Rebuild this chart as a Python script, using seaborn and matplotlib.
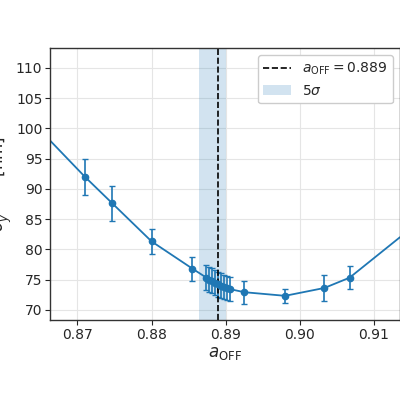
import matplotlib
matplotlib.use("Agg")
import matplotlib.pyplot as plt
import seaborn as sns
import numpy as np

sns.set_style("ticks")
plt.rcParams['font.family'] = ['DejaVu Sans']

a_off = [0.871, 0.8747, 0.880, 0.8855, 0.8874, 0.8878, 0.8882, 0.8886, 0.8890, 0.8894, 0.8898, 0.8902, 0.8906, 0.8925, 0.898, 0.9033, 0.9067]
sigma = [92.0, 87.6, 81.3, 76.8, 75.3, 75.0, 74.8, 74.5, 74.2, 74.0, 73.8, 73.6, 73.4, 72.9, 72.3, 73.6, 75.3]
err = [3.0, 2.9, 2.0, 2.0, 2.1, 2.1, 2.1, 2.1, 2.1, 2.0, 2.0, 2.0, 2.0, 1.9, 1.2, 2.1, 1.9]
curve_x = [0.8663, 0.871, 0.8747, 0.880, 0.8855, 0.8874, 0.8906, 0.8925, 0.898, 0.9033, 0.9067, 0.9135]
curve_y = [98.0, 92.0, 87.6, 81.3, 76.8, 75.3, 73.4, 72.9, 72.3, 73.6, 75.3, 82.0]
a_best = 0.889
band = (0.8864, 0.8900)

fig = plt.figure(figsize=(4, 4), dpi=100)
ax = fig.add_axes([0.125, 0.2, 0.875, 0.68])
c = "#1f77b4"
sns.lineplot(x=curve_x, y=curve_y, ax=ax, color=c, lw=1.3, sort=True)
ax.errorbar(a_off, sigma, yerr=err, fmt='o', color=c, ms=4.5, capsize=2.5, elinewidth=1.2)
ax.axvline(a_best, color='k', ls='--', lw=1.2, label=r"$a_{\mathrm{OFF}} = 0.889$")
ax.axvspan(*band, color=c, alpha=0.2, lw=0, label=r"$5\sigma$")
ax.set_xlim(0.8663, 0.9135)
ax.set_ylim(68.3, 113.3)
ax.set_xticks([0.87, 0.88, 0.89, 0.90, 0.91])
ax.set_yticks(range(70, 115, 5))
ax.set_xlabel(r"$a_{\mathrm{OFF}}$", fontsize=12, labelpad=2)
ax.set_ylabel(r"$\sigma_y^{HFPNS}$ [nm]", fontsize=12, labelpad=1)
ax.tick_params(labelsize=10, pad=2, length=3.5)
ax.grid(True, color='#e5e5e5', lw=0.8)
for s in ax.spines.values():
    s.set_color('#333333'); s.set_linewidth(1.0)
ax.legend(loc='upper right', fontsize=10, framealpha=1)
fig.savefig("out.png", dpi=100)
